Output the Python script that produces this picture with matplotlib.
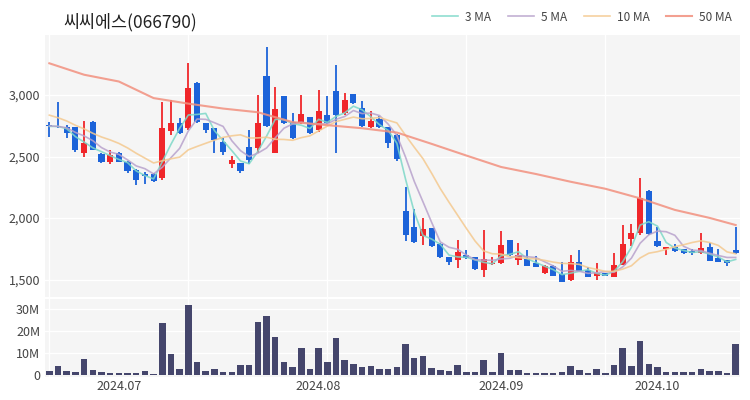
import numpy as np
import pandas as pd
import matplotlib
matplotlib.use("Agg")
import matplotlib.pyplot as plt

plt.rcParams['font.family'] = ['Noto Sans CJK KR', 'DejaVu Sans']

# trading days 2024-06-19 .. 2024-10-17 (KRX holidays removed)
holidays = ['2024-08-15', '2024-09-16', '2024-09-17', '2024-09-18',
            '2024-10-01', '2024-10-03', '2024-10-09']
dates = pd.bdate_range('2024-06-19', '2024-10-17')
dates = dates[~dates.isin(pd.to_datetime(holidays))]

opens = [2755, 2750, 2737, 2737, 2526, 2783, 2520, 2458, 2531, 2458,
         2390, 2355, 2355, 2323, 2710, 2770, 2729, 3100, 2770, 2729,
         2620, 2439, 2445, 2575, 2567, 3154, 2531, 2992, 2783, 2770,
         2818, 2715, 2837, 3035, 2856, 3008, 2892, 2737, 2802, 2737,
         2675, 2059, 1930, 1854, 1916, 1789, 1680, 1659, 1699, 1680,
         1577, 1630, 1632, 1821, 1659, 1664, 1632, 1550, 1610, 1545,
         1496, 1645, 1577, 1528, 1550, 1523, 1618, 1827, 1876, 2222,
         1815, 1745, 1762, 1745, 1734, 1713, 1767, 1672, 1659, 1740]
highs = [2780, 2945, 2756, 2740, 2789, 2790, 2530, 2553, 2535, 2462,
         2395, 2376, 2370, 2946, 2959, 2810, 3258, 3105, 2775, 2735,
         2650, 2504, 2450, 2715, 3000, 3393, 3067, 2995, 2856, 3000,
         2822, 3040, 2992, 3244, 3019, 3012, 2954, 2872, 2830, 2740,
         2680, 2250, 2071, 1998, 1920, 1800, 1685, 1821, 1740, 1685,
         1902, 1680, 1897, 1825, 1794, 1740, 1690, 1620, 1615, 1640,
         1699, 1740, 1600, 1637, 1555, 1713, 1943, 1950, 2323, 2225,
         1924, 1765, 1790, 1750, 1745, 1875, 1800, 1745, 1662, 1924]
lows = [2660, 2730, 2650, 2540, 2493, 2550, 2450, 2439, 2455, 2370,
        2268, 2276, 2295, 2309, 2675, 2685, 2715, 2775, 2690, 2526,
        2512, 2406, 2370, 2439, 2531, 2737, 2531, 2765, 2640, 2765,
        2685, 2700, 2765, 2526, 2840, 2925, 2740, 2730, 2730, 2570,
        2460, 1815, 1800, 1780, 1765, 1675, 1618, 1591, 1668, 1578,
        1518, 1620, 1628, 1695, 1620, 1608, 1600, 1545, 1525, 1478,
        1492, 1568, 1520, 1500, 1525, 1520, 1615, 1770, 1860, 1865,
        1768, 1699, 1725, 1708, 1700, 1710, 1650, 1640, 1610, 1705]
closes = [2745, 2740, 2693, 2553, 2607, 2553, 2458, 2512, 2458, 2382,
          2309, 2345, 2300, 2729, 2770, 2689, 3054, 2783, 2715, 2634,
          2539, 2472, 2380, 2472, 2775, 2748, 2884, 2770, 2648, 2846,
          2689, 2872, 2770, 2837, 2959, 2932, 2748, 2791, 2737, 2610,
          2477, 1862, 1807, 1908, 1772, 1680, 1645, 1726, 1672, 1583,
          1664, 1637, 1780, 1699, 1699, 1612, 1604, 1610, 1528, 1482,
          1645, 1572, 1523, 1555, 1528, 1618, 1789, 1880, 2160, 1870,
          1772, 1762, 1734, 1713, 1713, 1754, 1653, 1645, 1632, 1713]
# closes before the window (needed for the short moving averages)
prior_closes = [2950, 2960, 2900, 2900, 2910, 2760, 2750, 2740, 2750]
volumes_m = [1.7, 4.4, 1.8, 1.4, 7.4, 2.3, 1.4, 1.1, 0.9, 0.9,
             1.2, 1.8, 0.5, 23.8, 9.5, 2.9, 32.0, 6.1, 2.0, 2.7,
             1.4, 1.4, 4.5, 4.5, 23.9, 27.0, 17.4, 5.8, 3.5, 12.4,
             2.9, 12.1, 5.9, 16.7, 6.7, 5.0, 3.5, 4.1, 2.6, 2.9,
             3.5, 14.1, 8.0, 8.6, 3.2, 2.4, 1.7, 4.7, 1.4, 1.4,
             7.0, 1.4, 10.0, 2.3, 2.3, 1.1, 0.8, 0.8, 1.1, 1.5,
             4.4, 2.3, 0.9, 2.6, 0.8, 4.7, 12.3, 4.2, 15.6, 5.0,
             3.5, 1.3, 1.3, 1.3, 1.3, 3.0, 2.0, 2.0, 0.9, 14.1]
# 50-day MA at these candle positions
ma50_idx = [0, 4, 8, 12, 16, 20, 24, 28, 32, 36, 40, 44, 48, 52, 56, 60, 64, 68, 72, 76, 79]
ma50_val = [3258, 3165, 3110, 2975, 2930, 2890, 2860, 2780, 2755, 2730, 2695,
            2603, 2508, 2415, 2358, 2295, 2238, 2160, 2066, 2001, 1943]

o = np.array(opens); h = np.array(highs); l = np.array(lows); c = np.array(closes)
x = np.arange(len(c))
allc = pd.Series(prior_closes + closes)
n0 = len(prior_closes)
ma3 = allc.rolling(3).mean().values[n0:]
ma5 = allc.rolling(5).mean().values[n0:]
ma10 = allc.rolling(10).mean().values[n0:]

RED = '#f0262a'
BLUE = '#1c63d9'
BG = '#f5f5f5'
up = c >= o
cols = np.where(up, RED, BLUE)

fig = plt.figure(figsize=(7.5, 4), dpi=100)
ax = fig.add_axes([0.06, 0.2575, 0.9267, 0.655])
axv = fig.add_axes([0.06, 0.0575, 0.9267, 0.195])

for a in (ax, axv):
    a.set_facecolor(BG)
    for s in a.spines.values():
        s.set_visible(False)
    a.tick_params(length=0, labelsize=9, colors='#444444')
    a.set_xlim(-0.5, 79.5)
    for gx in [0, 16, 32, 48, 64]:
        a.axvline(gx, color='white', lw=1, zorder=0)

# price panel
for gy in [1500, 2000, 2500, 3000]:
    ax.axhline(gy, color='white', lw=1, zorder=0)
ax.vlines(x, l, h, color=cols, lw=1.3, zorder=2)
body = np.maximum(np.abs(c - o), 8)
ax.bar(x, body, bottom=np.minimum(o, c), width=0.7, color=cols, zorder=3)

ax.plot(x, ma3, color='#7dd8c8', lw=1.2, alpha=0.85, label='3 MA', zorder=4)
ax.plot(x, ma5, color='#b8a2cc', lw=1.2, alpha=0.85, label='5 MA', zorder=4)
ax.plot(x, ma10, color='#f4c98f', lw=1.2, alpha=0.85, label='10 MA', zorder=4)
ax.plot(ma50_idx, ma50_val, color='#f2907e', lw=1.5, alpha=0.85, label='50 MA', zorder=4)

ax.set_ylim(1358, 3488)
ax.set_yticks([1500, 2000, 2500, 3000])
ax.set_yticklabels(['1,500', '2,000', '2,500', '3,000'])
ax.set_xticks([])

# volume panel
for gy in [10, 20, 30]:
    axv.axhline(gy, color='white', lw=1, zorder=0)
axv.bar(x, volumes_m, width=0.75, color='#45466c', zorder=2)
axv.set_ylim(-0.8, 34.5)
axv.set_yticks([0, 10, 20, 30])
axv.set_yticklabels(['0', '10M', '20M', '30M'])
month_pos = [i for i in range(1, len(dates)) if dates[i].month != dates[i - 1].month]
axv.set_xticks(month_pos)
axv.set_xticklabels([dates[i].strftime('%Y.%m') for i in month_pos])
axv.tick_params(axis='x', pad=2)

fig.text(0.084, 0.945, '씨씨에스(066790)', fontsize=12.5, color='#222222', va='center')
fig.legend(loc='upper right', bbox_to_anchor=(0.99, 1.0), ncol=4, frameon=False,
           fontsize=8.5, handlelength=2.2, columnspacing=1.4, handletextpad=0.6,
           labelcolor='#444444')

fig.savefig('out.png', dpi=100, facecolor='white')
